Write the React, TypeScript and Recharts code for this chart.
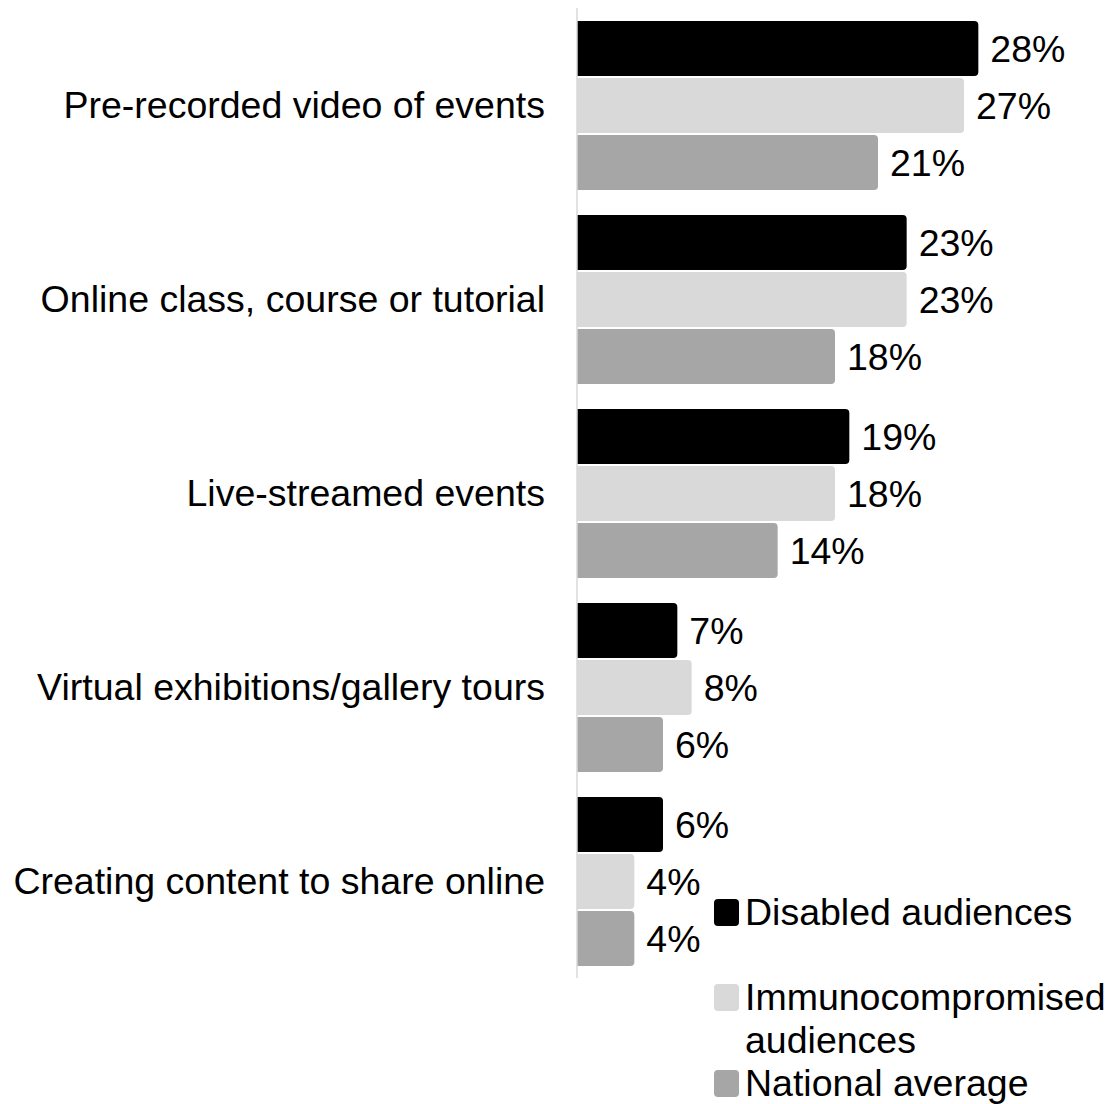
import React from 'react';
import { BarChart, Bar, XAxis, YAxis, LabelList } from 'recharts';

const categories = [
  'Pre-recorded video of events',
  'Online class, course or tutorial',
  'Live-streamed events',
  'Virtual exhibitions/gallery tours',
  'Creating content to share online',
];
const disabled = [28, 23, 19, 7, 6];
const immuno = [27, 23, 18, 8, 4];
const national = [21, 18, 14, 6, 4];

const seriesNames = ['Disabled audiences', 'Immunocompromised audiences', 'National average'];
const seriesKeys = ['disabled', 'immuno', 'national'];
const seriesColors = ['#000000', '#d9d9d9', '#a6a6a6'];

const FONT = '"Liberation Sans", Arial, sans-serif';
const FS = 37.5;

const data = categories.map((name, i) => ({
  name,
  disabled: disabled[i],
  immuno: immuno[i],
  national: national[i],
}));

const App: React.FC = () => {
  return (
    <div style={{ position: 'absolute', left: 0, top: 0, width: 1120, height: 1104, fontFamily: FONT, background: '#fff' }}>
      <BarChart
        width={1120}
        height={1104}
        data={data}
        layout="vertical"
        margin={{ top: 8, right: 113, bottom: 126, left: 0 }}
        barSize={55}
        barGap={2}
      >
        <XAxis type="number" domain={[0, 30]} hide />
        <YAxis
          type="category"
          dataKey="name"
          width={577}
          tickSize={0}
          tickMargin={32}
          tickLine={false}
          axisLine={{ stroke: '#d9d9d9', strokeWidth: 1.5 }}
          tick={{ fill: '#000', fontSize: FS, fontFamily: FONT }}
          interval={0}
        />
        {seriesKeys.map((key, i) => (
          <Bar key={key} dataKey={key} fill={seriesColors[i]} radius={[0, 4, 4, 0]} isAnimationActive={false}>
            <LabelList
              dataKey={key}
              position="right"
              offset={12}
              formatter={(v: any) => `${v}%`}
              style={{ fill: '#000', fontSize: FS, fontFamily: FONT }}
            />
          </Bar>
        ))}
      </BarChart>
      <div style={{ position: 'absolute', left: 714, top: 891, width: 406 }}>
        {seriesNames.map((name, i) => (
          <div
            key={name}
            style={{ display: 'flex', alignItems: 'flex-start', marginBottom: i === 0 ? 42 : 0 }}
          >
            <div
              style={{
                width: 25,
                height: 27,
                marginTop: 8,
                marginRight: 6,
                borderRadius: 4,
                background: seriesColors[i],
                flexShrink: 0,
              }}
            />
            <div style={{ fontSize: FS, lineHeight: '43px', color: '#000', width: 375, whiteSpace: 'normal' }}>{name}</div>
          </div>
        ))}
      </div>
    </div>
  );
};

export default App;
